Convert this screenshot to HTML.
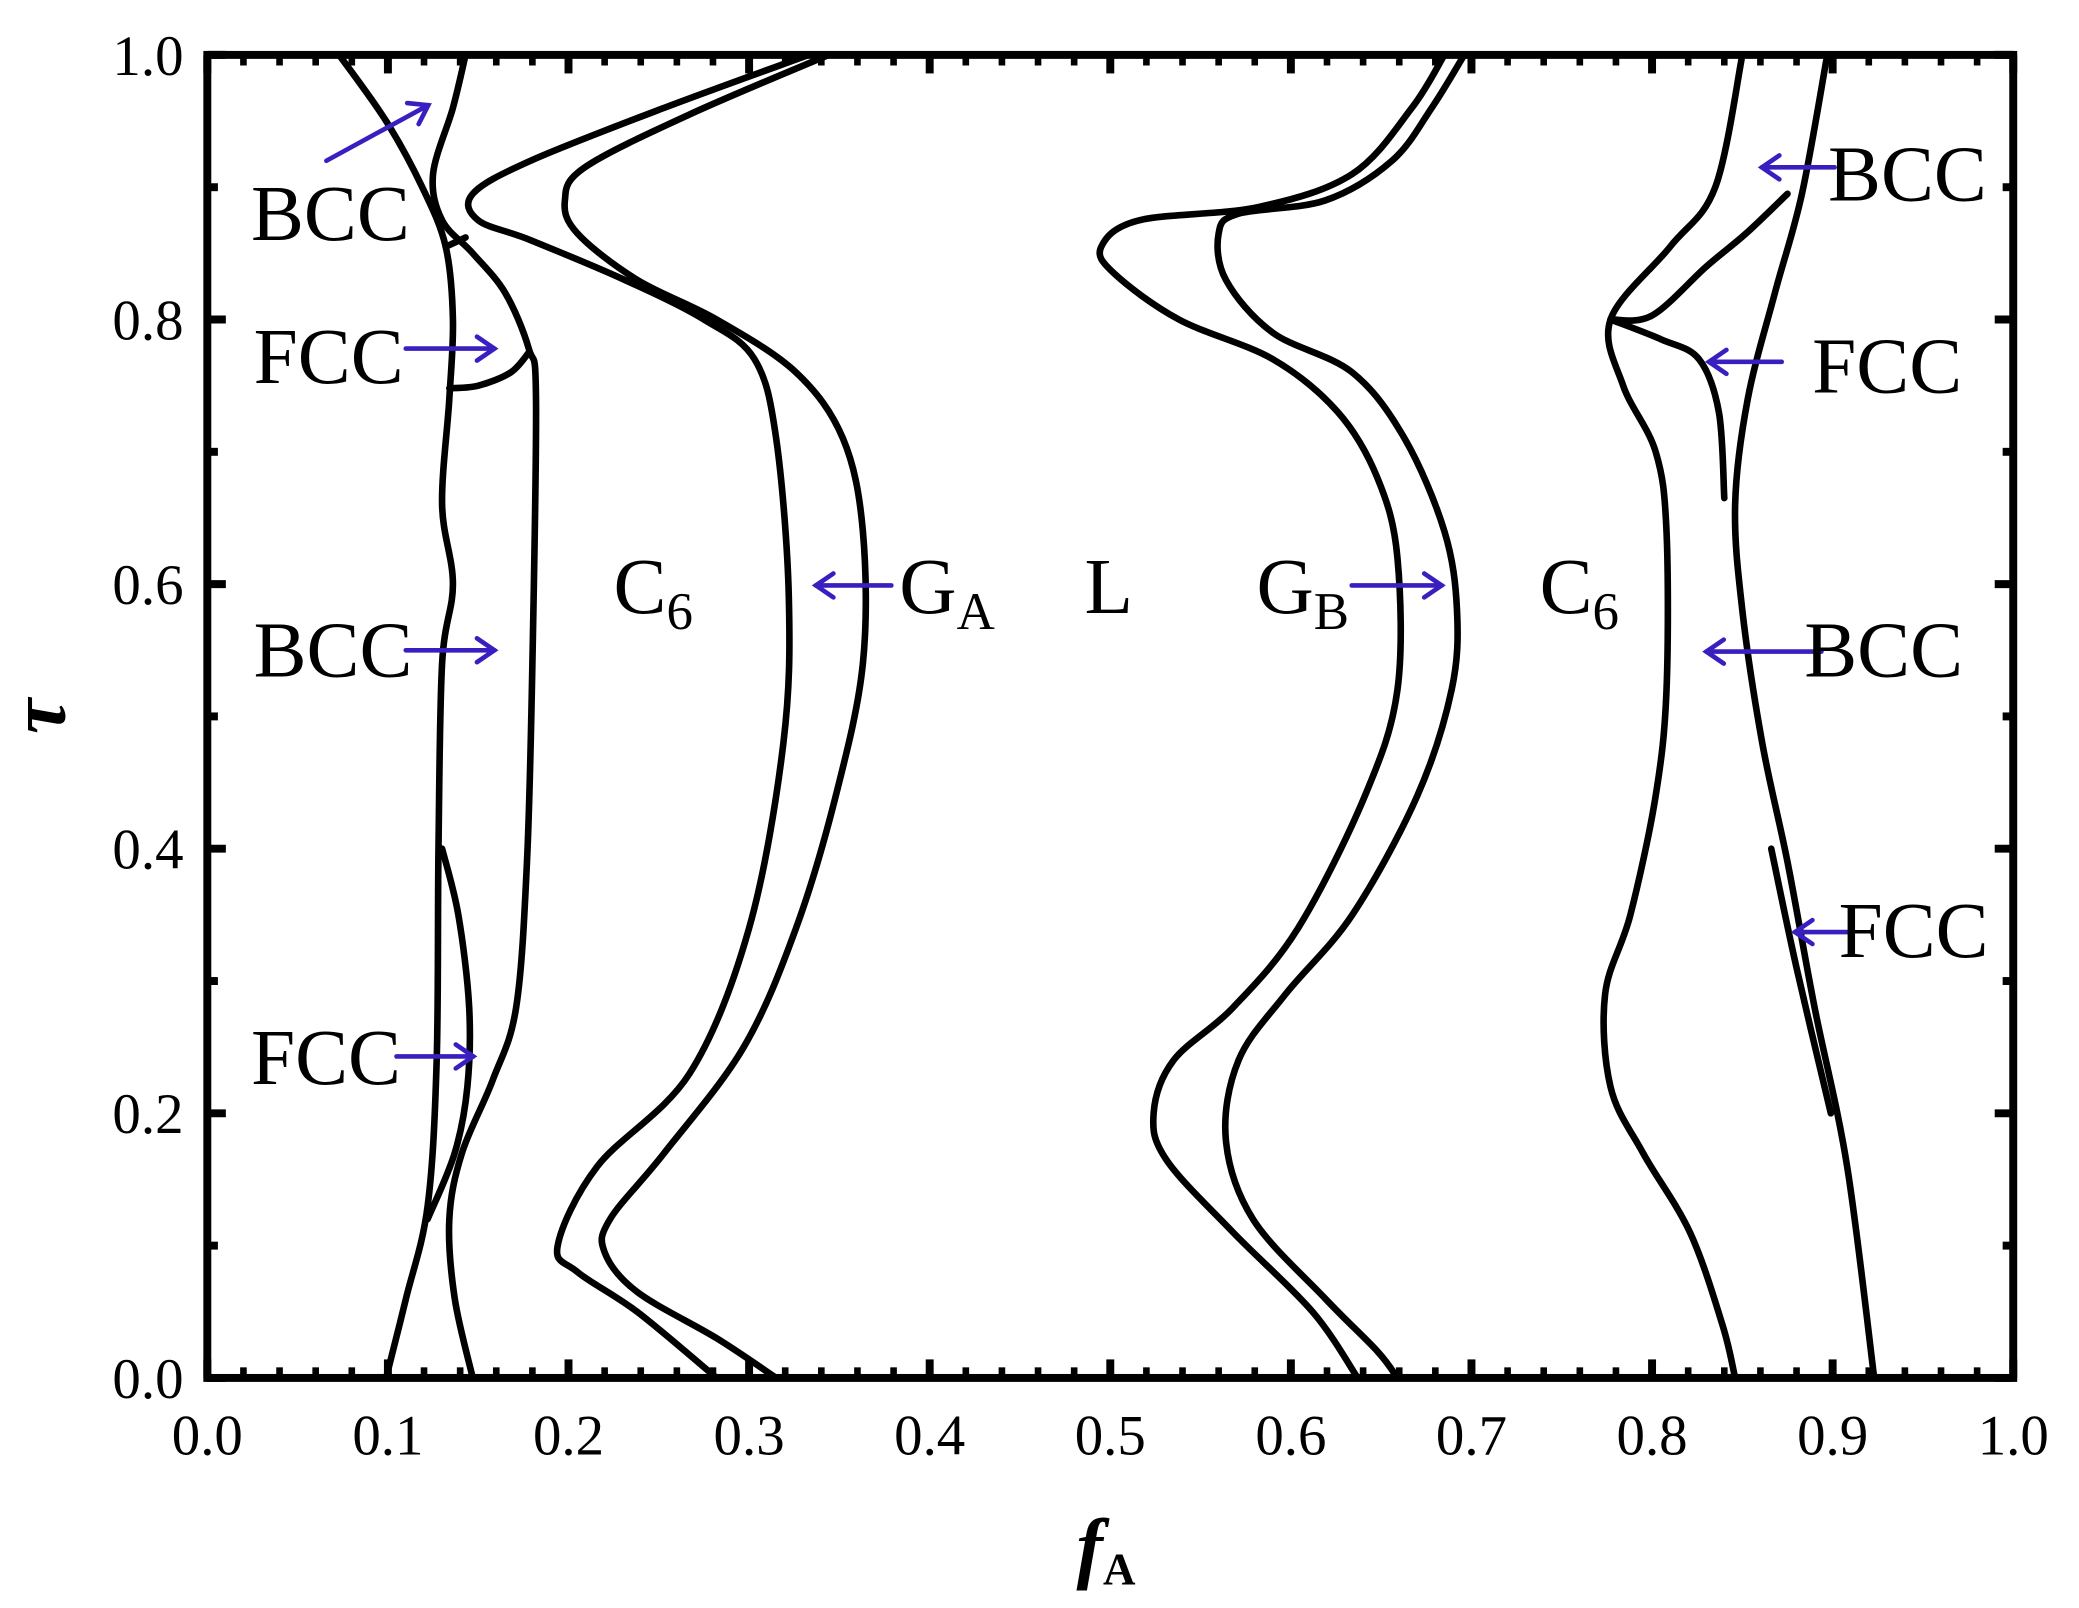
<!DOCTYPE html>
<html><head><meta charset="utf-8"><style>
html,body{margin:0;padding:0;background:#fff;}
svg{display:block;}
text{font-family:"Liberation Serif",serif;fill:#000;}
</style></head><body>
<svg id="chart" width="2079" height="1608" viewBox="-1.5 -1.5 1571 1215.4" xmlns="http://www.w3.org/2000/svg">
<g id="curves"></g>
<g id="arrows"></g>
<g id="axes"></g>
<g id="labels"></g>
</svg>
<script>
const xTicks=["0.0","0.1","0.2","0.3","0.4","0.5","0.6","0.7","0.8","0.9","1.0"];
const yTicks=["0.0","0.2","0.4","0.6","0.8","1.0"];
const bccLeftOuter=[[0.073,1.0],[0.099,0.95],[0.119,0.90],[0.132,0.855],[0.136,0.80],[0.134,0.74],[0.130,0.66],[0.136,0.60],[0.130,0.54],[0.128,0.40],[0.127,0.24],[0.122,0.13],[0.110,0.06],[0.099,0.0]];
const bccLeftInner=[[0.143,1.0],[0.136,0.96],[0.125,0.91],[0.130,0.875],[0.147,0.85],[0.165,0.82],[0.178,0.778],[0.182,0.74],[0.180,0.54],[0.177,0.39],[0.171,0.28],[0.158,0.225],[0.141,0.17],[0.134,0.12],[0.137,0.06],[0.147,0.0]];
const leftTie=[[0.132,0.855],[0.143,0.862]];
const fccLeftArc=[[0.134,0.748],[0.150,0.750],[0.168,0.760],[0.178,0.775]];
const fccLeftLens=[[0.130,0.40],[0.139,0.35],[0.145,0.28],[0.144,0.22],[0.137,0.17],[0.122,0.12]];
const gaOuter=[[0.333,1.0],[0.253,0.96],[0.179,0.92],[0.147,0.895],[0.150,0.875],[0.179,0.86],[0.231,0.83],[0.275,0.80],[0.303,0.77],[0.315,0.71],[0.322,0.59],[0.319,0.48],[0.300,0.34],[0.267,0.23],[0.216,0.16],[0.194,0.10],[0.205,0.08],[0.238,0.05],[0.282,0.0]];
const gaInner=[[0.344,1.0],[0.267,0.955],[0.209,0.915],[0.198,0.89],[0.205,0.865],[0.238,0.83],[0.282,0.80],[0.326,0.76],[0.352,0.71],[0.363,0.64],[0.363,0.54],[0.348,0.44],[0.326,0.34],[0.297,0.25],[0.253,0.17],[0.223,0.12],[0.220,0.095],[0.238,0.065],[0.282,0.03],[0.315,0.0]];
const gbOuter=[[0.685,1.0],[0.667,0.96],[0.634,0.91],[0.582,0.885],[0.516,0.875],[0.495,0.855],[0.502,0.835],[0.538,0.80],[0.590,0.77],[0.626,0.73],[0.648,0.68],[0.659,0.62],[0.659,0.52],[0.641,0.44],[0.604,0.34],[0.568,0.28],[0.535,0.24],[0.524,0.20],[0.531,0.165],[0.568,0.11],[0.612,0.05],[0.637,0.0]];
const gbInner=[[0.696,1.0],[0.678,0.96],[0.656,0.92],[0.619,0.89],[0.571,0.88],[0.560,0.865],[0.564,0.83],[0.590,0.79],[0.634,0.76],[0.663,0.71],[0.685,0.64],[0.692,0.58],[0.689,0.52],[0.670,0.44],[0.634,0.35],[0.597,0.29],[0.571,0.24],[0.564,0.18],[0.579,0.12],[0.619,0.06],[0.648,0.02],[0.659,0.0]];
const c6Right=[[0.850,1.0],[0.835,0.90],[0.810,0.855],[0.777,0.80],[0.784,0.75],[0.802,0.70],[0.808,0.64],[0.808,0.52],[0.802,0.44],[0.788,0.35],[0.774,0.29],[0.777,0.22],[0.795,0.17],[0.821,0.11],[0.839,0.04],[0.846,0.0]];
const fccRightUpper=[[0.777,0.80],[0.800,0.803],[0.830,0.84],[0.852,0.865],[0.875,0.895]];
const fccRightLower=[[0.777,0.80],[0.805,0.785],[0.826,0.77],[0.837,0.73],[0.840,0.665]];
const bccRightOuter=[[0.897,1.0],[0.883,0.895],[0.868,0.82],[0.853,0.74],[0.846,0.66],[0.850,0.58],[0.861,0.48],[0.875,0.39],[0.890,0.28],[0.908,0.16],[0.923,0.0]];
const fccRightWedge=[[0.866,0.40],[0.880,0.31],[0.899,0.20]];
const curveNames=["bcc-left-outer","bcc-left-inner","left-tie","fcc-left-arc","fcc-left-lens","ga-outer","ga-inner","gb-outer","gb-inner","c6-right","fcc-right-upper","fcc-right-lower","bcc-right-outer","fcc-right-wedge"];
const curveSets=[bccLeftOuter,bccLeftInner,leftTie,fccLeftArc,fccLeftLens,gaOuter,gaInner,gbOuter,gbInner,c6Right,fccRightUpper,fccRightLower,bccRightOuter,fccRightWedge];

const X0=155,X1=1520,Y0=1040,Y1=40;
const sx=f=>X0+f*(X1-X0);
const sy=t=>Y0-t*(Y0-Y1);
const NS="http://www.w3.org/2000/svg";
function mk(tag,attrs,parent){const e=document.createElementNS(NS,tag);for(const k in attrs)e.setAttribute(k,attrs[k]);parent.appendChild(e);return e;}
function smooth(pts){
  const p=pts.map(a=>[sx(a[0]),sy(a[1])]);
  if(p.length<3)return "M"+p.map(q=>q.join(",")).join(" L");
  let d="M"+p[0][0]+","+p[0][1];
  for(let i=0;i<p.length-1;i++){
    const p0=p[Math.max(0,i-1)],p1=p[i],p2=p[i+1],p3=p[Math.min(p.length-1,i+2)];
    const c1=[p1[0]+(p2[0]-p0[0])/6,p1[1]+(p2[1]-p0[1])/6];
    const c2=[p2[0]-(p3[0]-p1[0])/6,p2[1]-(p3[1]-p1[1])/6];
    d+=" C"+c1.join(",")+" "+c2.join(",")+" "+p2.join(",");
  }
  return d;
}
const cg=document.getElementById('curves');
curveSets.forEach((s,i)=>{
  const e=mk('path',{d:smooth(s),fill:'none',stroke:'#000','stroke-width':5,'stroke-linecap':'round','stroke-linejoin':'round'},cg);
  
  
});
const ag=document.getElementById('axes');
const frame=mk('rect',{x:X0,y:Y1,width:X1-X0,height:Y0-Y1,fill:'none',stroke:'#000','stroke-width':6},ag);


for(let i=0;i<=50;i++){
  const f=i/50,x=sx(f),len=(i%5===0)?14:8;
  const b=mk('line',{x1:x,y1:Y0,x2:x,y2:Y0-len,stroke:'#000','stroke-width':(i%5===0)?6:5},ag);
  
  
  const t=mk('line',{x1:x,y1:Y1,x2:x,y2:Y1+len,stroke:'#000','stroke-width':(i%5===0)?6:5},ag);
  
  
}
for(let i=0;i<=10;i++){
  const y=sy(i/10),len=(i%2===0)?14:8;
  const l=mk('line',{x1:X0,y1:y,x2:X0+len,y2:y,stroke:'#000','stroke-width':6},ag);
  
  
  const r=mk('line',{x1:X1,y1:y,x2:X1-len,y2:y,stroke:'#000','stroke-width':6},ag);
  
  
}
xTicks.forEach((s,i)=>{
  const t=mk('text',{x:sx(i/10),y:1098,'font-size':43,'text-anchor':'middle'},ag);
  t.textContent=s;
  
  
});
yTicks.forEach((s,i)=>{
  const t=mk('text',{x:137,y:sy(i*0.2)+15,'font-size':43,'text-anchor':'end'},ag);
  t.textContent=s;
  
  
});
</script>
<script>
const lg=document.getElementById('labels');
function lab(txt,sub,x,y,name){
  const t=mk('text',{x:x,y:y,'font-size':60},lg);
  t.textContent=txt;
  if(sub){const s=mk('tspan',{'font-size':40,dy:12},t);s.textContent=sub;}
  
  
}
lab("BCC","",188,180,"label-bcc-left-top");
lab("FCC","",190,288,"label-fcc-left-top");
lab("BCC","",190,510,"label-bcc-left-mid");
lab("FCC","",188,818,"label-fcc-left-bottom");
lab("C","6",462,462,"label-c6-left");
lab("G","A",678,462,"label-ga");
lab("L","",818,462,"label-l");
lab("G","B",948,462,"label-gb");
lab("C","6",1162,462,"label-c6-right");
lab("BCC","",1380,150,"label-bcc-right-top");
lab("FCC","",1368,295,"label-fcc-right-top");
lab("BCC","",1362,510,"label-bcc-right-mid");
lab("FCC","",1388,722,"label-fcc-right-bottom");
const ft=mk('text',{x:812,y:1188,'font-size':60,'font-weight':'bold','font-style':'italic'},lg);
ft.textContent="f";
const fs=mk('tspan',{'font-size':34,dy:8,'font-style':'normal'},ft);fs.textContent="A";


const tt=mk('text',{x:0,y:0,'font-size':60,'font-weight':'bold','font-style':'italic',transform:'translate(47,540) rotate(-90)','text-anchor':'middle'},lg);
tt.textContent="τ";


const arrowList=[[245,120,322,78],[305,262,372,262],[305,490,372,490],[298,797,356,797],[672,441,615,441],[1020,441,1088,441],[1385,125,1330,125],[1345,272,1290,272],[1375,491,1288,491],[1395,703,1355,703]];
const arg=document.getElementById('arrows');
arrowList.forEach(a=>{
  const [x1,y1,x2,y2]=a;const ang=Math.atan2(y2-y1,x2-x1),h=16;
  const g=mk('g',{stroke:'#3a1fc0','stroke-width':3.5,fill:'none','stroke-linecap':'round'},arg);
  
  
  mk('line',{x1:x1,y1:y1,x2:x2,y2:y2},g);
  const p1=[x2-h*Math.cos(ang-0.6),y2-h*Math.sin(ang-0.6)],p2=[x2-h*Math.cos(ang+0.6),y2-h*Math.sin(ang+0.6)];
  mk('path',{d:`M${p1} L${x2},${y2} L${p2}`},g);
});
</script>
</body></html>
